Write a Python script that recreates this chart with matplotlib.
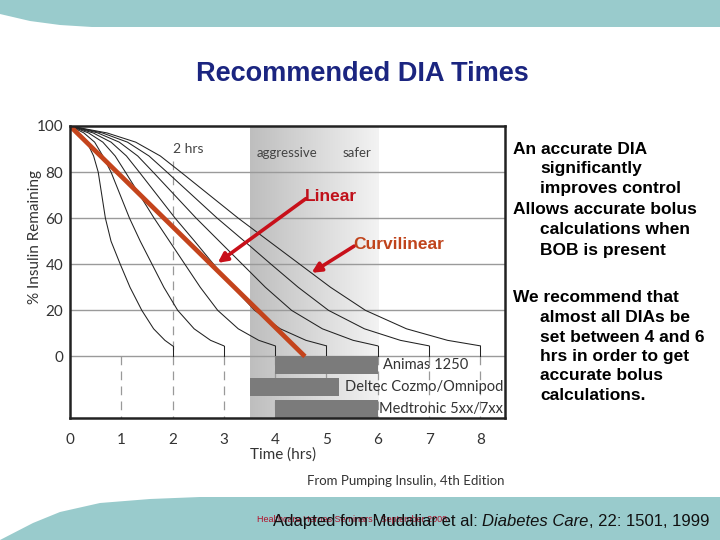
import numpy as np
import matplotlib
matplotlib.use('Agg')
import matplotlib.pyplot as plt
from matplotlib.patches import Polygon
from matplotlib.colors import LinearSegmentedColormap

plt.rcParams['font.family'] = ['Lato', 'DejaVu Sans']

# % insulin remaining levels, and the time (hrs) where each DIA curve reaches them
levels = [100, 97, 93, 87, 80, 70, 60, 50, 40, 30, 20, 12, 7, 4.6]
curve_2h = [0, .16, .33, .46, .55, .62, .69, .80, .98, 1.17, 1.40, 1.63, 1.85, 2.0]
curve_3h = [0, .27, .48, .64, .80, .98, 1.16, 1.37, 1.60, 1.83, 2.10, 2.42, 2.74, 3.0]
curve_4h = [0, .36, .64, .88, 1.08, 1.36, 1.64, 1.94, 2.24, 2.54, 2.88, 3.28, 3.68, 4.0]
curve_5h = [0, .45, .80, 1.10, 1.35, 1.70, 2.05, 2.43, 2.80, 3.18, 3.60, 4.10, 4.60, 5.0]
curve_6h = [0, .54, .96, 1.32, 1.62, 2.04, 2.46, 2.91, 3.36, 3.81, 4.32, 4.92, 5.52, 6.0]
curve_7h = [0, .63, 1.12, 1.54, 1.89, 2.38, 2.87, 3.40, 3.92, 4.45, 5.04, 5.74, 6.44, 7.0]
curve_8h = [0, .72, 1.28, 1.76, 2.16, 2.72, 3.28, 3.88, 4.48, 5.08, 5.76, 6.56, 7.36, 8.0]
curves = [curve_2h, curve_3h, curve_4h, curve_5h, curve_6h, curve_7h, curve_8h]

# straight "linear" model
linear_t = [0, 4.58]
linear_y = [100, 0]

# pump DIA ranges (hrs)
pumps = ['Animas 1250', 'Deltec Cozmo/Omnipod', 'Medtronic 5xx/7xx']
pump_start = [4, 3.5, 4]
pump_end = [6, 5.25, 6]
pump_y = [-3.75, -13.1, -22.6]

xticks = [0, 1, 2, 3, 4, 5, 6, 7, 8]
yticks = [0, 20, 40, 60, 80, 100]

right_lines = [
    ('An accurate DIA', 513, 149), ('significantly', 540, 169),
    ('improves control', 540, 189), ('Allows accurate bolus', 513, 210),
    ('calculations when', 540, 230), ('BOB is present', 540, 250),
    ('We recommend that', 513, 297), ('almost all DIAs be', 540, 317),
    ('set between 4 and 6', 540, 337), ('hrs in order to get', 540, 356),
    ('accurate bolus', 540, 375), ('calculations.', 540, 395),
]

fig = plt.figure(figsize=(7.2, 5.4), dpi=100)

# slide background layer in pixel coords
bg = fig.add_axes([0, 0, 1, 1], zorder=0)
bg.set_xlim(0, 720)
bg.set_ylim(540, 0)
bg.axis('off')
teal = '#99cbcc'
bg.add_patch(Polygon([(0, 0), (720, 0), (720, 27), (92, 27), (60, 25), (30, 21), (0, 14)],
                     closed=True, color=teal, lw=0))
bg.add_patch(Polygon([(0, 540), (720, 540), (720, 497), (200, 497), (150, 499), (100, 503),
                      (60, 512), (33, 523), (0, 540)], closed=True, color=teal, lw=0))
bg.text(362, 74, 'Recommended DIA Times', ha='center', va='center', fontsize=19.5,
        fontweight='bold', color='#1b2580', family='Liberation Sans')
for s, x, y in right_lines:
    bg.text(x, y, s, ha='left', va='center', fontsize=12.5, fontweight='bold',
            color='black', family='Liberation Sans')
bg.text(257, 520, 'Healthcare Heroes Seminars - September 2008', ha='left', va='center',
        fontsize=6.5, color='#b0102a', family='Liberation Sans')
t1 = bg.text(273, 526, 'Adapted fom Mudaliar et al: ', ha='left', va='baseline',
             fontsize=12, color='#111111', family='Liberation Sans')
t2 = bg.annotate('Diabetes Care', xy=(1, 0), xycoords=t1, va='bottom', ha='left',
                 fontsize=12, style='italic', color='#111111', family='Liberation Sans')
bg.annotate(', 22: 1501, 1999', xy=(1, 0), xycoords=t2, va='bottom', ha='left',
            fontsize=12, color='#111111', family='Liberation Sans')

# chart
ax = fig.add_axes([70 / 720, 1 - 418 / 540, 435 / 720, 292 / 540], zorder=1)
ax.set_xlim(0, 8.48)
ax.set_ylim(-26.7, 100)

cmap = LinearSegmentedColormap.from_list('band', ['#bebebe', '#f3f3f3'])
ax.imshow(np.linspace(0, 1, 256).reshape(1, -1), cmap=cmap, aspect='auto',
          extent=[3.5, 6, -26.7, 100], zorder=0.5)

for y in [0, 20, 40, 60, 80]:
    ax.axhline(y, color='#9a9a9a', lw=1, zorder=1)
for x in xticks[1:]:
    ax.plot([x, x], [0, -26.7], color='#999999', lw=0.9, ls=(0, (7, 5)), zorder=1)
ax.plot([2, 2], [85, 0], color='#999999', lw=0.9, ls=(0, (7, 5)), zorder=1)

for c in curves:
    ax.plot(c, levels, color='#222222', lw=0.75, zorder=2)
    ax.plot([c[-1], c[-1]], [levels[-1], 0], color='#222222', lw=0.75, zorder=2)

ax.plot(linear_t, linear_y, color='#c4441c', lw=3.4, solid_capstyle='butt', zorder=4)

for name, a, b, y in zip(pumps, pump_start, pump_end, pump_y):
    ax.barh(y, b - a, left=a, height=7.8, color='#7b7b7b', zorder=3)
ax.text(6.1, pump_y[0], pumps[0], ha='left', va='center', fontsize=10.5, color='#333333', zorder=5)
ax.text(8.44, pump_y[1], pumps[1], ha='right', va='center', fontsize=10.5, color='#333333', zorder=5)
ax.text(8.44, pump_y[2], pumps[2], ha='right', va='center', fontsize=10.5, color='#333333', zorder=5)

ax.text(2.0, 90.2, '2 hrs', ha='left', va='center', fontsize=10, color='#444444', zorder=5)
ax.text(3.64, 88.4, 'aggressive', ha='left', va='center', fontsize=9.5, color='#444444', zorder=5)
ax.text(5.32, 88.4, 'safer', ha='left', va='center', fontsize=9.5, color='#444444', zorder=5)

ax.annotate('', xy=(2.88, 40.6), xytext=(4.6, 68.5),
            arrowprops=dict(arrowstyle='-|>', color='#c8101a', lw=2.6, mutation_scale=14,
                            shrinkA=0, shrinkB=0), zorder=6)
ax.text(4.58, 69.6, 'Linear', ha='left', va='center', fontsize=12.5, fontweight='bold',
        color='#c0101a', family='Liberation Sans', zorder=6)
ax.annotate('', xy=(4.71, 36.3), xytext=(5.54, 47.9),
            arrowprops=dict(arrowstyle='-|>', color='#c8101a', lw=2.6, mutation_scale=14,
                            shrinkA=0, shrinkB=0), zorder=6)
ax.text(5.52, 48.7, 'Curvilinear', ha='left', va='center', fontsize=12.5, fontweight='bold',
        color='#c0441c', family='Liberation Sans', zorder=6)

ax.set_xticks(xticks)
ax.set_yticks(yticks)
ax.tick_params(length=0, labelsize=11, labelcolor='#333333')
ax.tick_params(axis='x', pad=11)
ax.tick_params(axis='y', pad=5)
for sp in ax.spines.values():
    sp.set_linewidth(1.8)
    sp.set_color('#222222')
    sp.set_zorder(7)

ax.text(-0.08, 0.62, '% Insulin Remaining', rotation=90, ha='center', va='center',
        fontsize=11, color='#333333', transform=ax.transAxes)
ax.text(0.49, -0.125, 'Time (hrs)', ha='center', va='center', fontsize=11,
        color='#333333', transform=ax.transAxes)
ax.text(1.0, -0.215, 'From Pumping Insulin, 4th Edition', ha='right', va='center',
        fontsize=9.5, color='#333333', transform=ax.transAxes)

fig.savefig('out.png', dpi=100)
